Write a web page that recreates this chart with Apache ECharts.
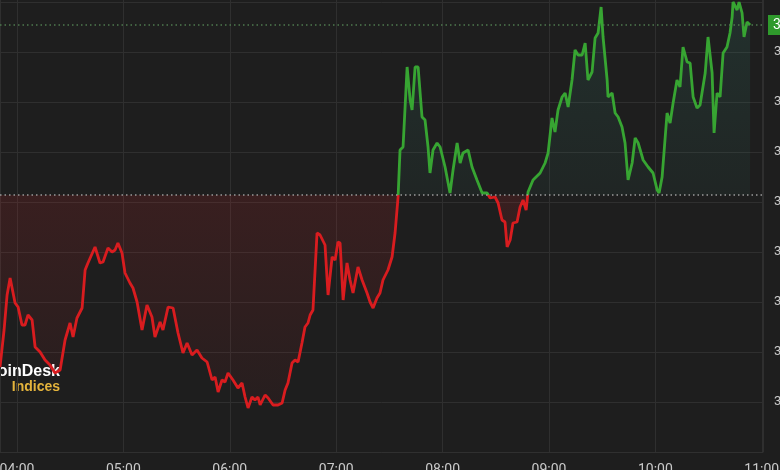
<!DOCTYPE html>
<html><head><meta charset="utf-8">
<style>html,body{margin:0;padding:0;background:#1e1e1e;}#c{width:780px;height:470px;}</style>
<script src="https://cdn.jsdelivr.net/npm/echarts@6/dist/echarts.min.js"></script>
</head><body><div id="c"></div>
<script>
// minutes after 04:00 (UTC) for each sample
const minutesFrom0400 = [
-9.6,-7.3,-5.6,-3.9,-1.1,0.6,2.8,4.5,6.2,8.5,10.2,13.0,15.8,18.6,21.4,24.3,27.1,29.9,31.6,33.8,
36.7,38.4,40.0,44.0,46.8,48.5,51.3,53.6,55.3,56.9,59.2,60.9,63.7,65.4,67.7,70.5,73.3,76.1,77.8,80.7,
82.3,85.2,88.0,90.8,93.6,95.9,98.7,101.5,104.3,107.2,110.0,111.7,113.4,115.6,117.3,119.0,121.8,124.6,126.9,128.6,
130.3,132.5,134.2,135.9,137.1,139.9,141.6,144.4,147.2,149.5,151.2,152.8,155.1,156.8,158.5,160.7,162.4,164.1,165.3,166.9,
169.2,170.9,173.7,175.4,177.7,179.4,181.0,182.2,183.9,186.1,187.8,189.5,192.3,194.6,197.4,199.1,200.8,203.0,204.7,206.4,
209.2,211.5,213.2,214.9,216.0,217.7,220.0,221.7,222.8,224.5,226.2,228.4,230.1,231.8,232.9,234.6,236.9,238.6,241.4,244.2,
245.9,248.2,249.9,251.5,254.4,256.6,259.4,262.3,265.1,266.8,269.6,271.3,273.5,275.2,276.4,278.1,279.7,282.0,283.7,285.4,
287.1,288.2,291.0,295.0,297.8,299.5,301.7,303.4,305.1,307.4,309.1,310.8,313.0,314.7,316.4,318.7,320.4,322.0,324.3,326.0,
327.7,329.4,330.5,332.8,333.3,335.6,337.3,339.0,341.2,342.9,344.6,346.9,348.6,350.3,353.1,355.9,358.7,361.0,362.1,363.8,
366.6,368.3,370.0,372.2,373.9,375.6,377.9,379.6,381.3,383.5,385.2,388.1,389.7,392.0,393.1,394.8,396.5,398.2,400.4,402.1,
403.3,403.8,406.1,407.2,408.9,410.0,411.7,413.4
];
const prices = [
30085,30122,30157,30174,30149,30145,30127,30127,30137,30132,30105,30100,30092,30087,30079,30082,30112,30129,30115,30134,
30144,30182,30189,30205,30189,30190,30204,30200,30202,30209,30199,30179,30169,30164,30150,30122,30147,30135,30115,30130,
30122,30145,30144,30119,30099,30109,30097,30102,30094,30090,30072,30075,30060,30072,30070,30079,30072,30064,30069,30055,
30044,30055,30052,30055,30047,30057,30054,30047,30047,30049,30062,30069,30089,30092,30090,30109,30125,30129,30137,30142,
30219,30217,30207,30157,30195,30192,30210,30209,30152,30189,30172,30159,30185,30172,30159,30150,30144,30154,30159,30172,
30182,30195,30219,30255,30302,30305,30385,30352,30342,30385,30385,30335,30332,30305,30279,30302,30309,30305,30285,30259,
30282,30309,30289,30299,30302,30285,30272,30259,30259,30254,30255,30249,30232,30230,30205,30212,30229,30230,30245,30252,
30242,30260,30272,30279,30289,30299,30334,30320,30342,30355,30359,30345,30372,30402,30397,30397,30409,30372,30380,30414,
30419,30445,30415,30372,30355,30359,30339,30335,30325,30309,30272,30289,30314,30309,30292,30285,30279,30262,30259,30275,
30339,30329,30349,30372,30365,30405,30390,30389,30355,30344,30347,30379,30415,30379,30319,30359,30355,30399,30405,30419,
30435,30450,30442,30450,30439,30415,30430,30427
];
const openPrice = 30257;
const lastPrice = 30427;
const yMin = 30000, yMax = 30500, yStep = 50;
const xStartMin = -9.6, xEndMin = 420.7;
const logoMain = 'CoinDesk';
const logoSub = 'Indices';

const base = Date.UTC(2023, 6, 1, 4, 0, 0);
const seriesData = minutesFrom0400.map((m, i) => [base + m * 60000, prices[i]]);
const pMax = Math.max(...prices), pMin = Math.min(...prices);
const f = (pMax - openPrice) / (pMax - pMin);

const RED = '#d91c1f', GREEN = '#37a532';
const chart = echarts.init(document.getElementById('c'), null, {renderer: 'canvas'});
chart.setOption({
  backgroundColor: '#1e1e1e',
  useUTC: true,
  animation: false,
  grid: {left: 0, right: 17, top: -48, bottom: 18, containLabel: false, outerBoundsMode: 'none'},
  xAxis: {
    type: 'time',
    min: base + xStartMin * 60000,
    max: base + xEndMin * 60000,
    minInterval: 3600000, maxInterval: 3600000,
    axisLine: {show: true, lineStyle: {color: '#303030'}},
    axisTick: {show: false},
    axisLabel: {color: '#c9c9c9', fontSize: 14, fontFamily: 'Roboto', margin: 11,
      formatter: '{HH}:{mm}', hideOverlap: false},
    splitLine: {show: true, lineStyle: {color: '#2f2f2f', width: 1}}
  },
  yAxis: {
    type: 'value', position: 'right', min: yMin, max: yMax, interval: yStep,
    axisLine: {show: false}, axisTick: {show: false},
    axisLabel: {color: '#c9c9c9', fontSize: 13, fontFamily: 'Roboto', margin: 11, showMinLabel: false,
      formatter: v => v >= yMax - yStep ? '' : v.toLocaleString('en-US')},
    splitLine: {show: true, lineStyle: {color: '#2f2f2f', width: 1}}
  },
  visualMap: {
    show: false, type: 'piecewise', dimension: 1, seriesIndex: 0,
    pieces: [{min: 0, max: openPrice, color: RED}, {min: openPrice, max: 1e9, color: GREEN}]
  },
  series: [{
    type: 'line', data: seriesData, showSymbol: false, symbol: 'none', clip: false,
    lineStyle: {width: 2.8},
    areaStyle: {
      origin: openPrice,
      color: new echarts.graphic.LinearGradient(0, 0, 0, 1, [
        {offset: 0, color: 'rgba(60,150,130,0.22)'},
        {offset: f, color: 'rgba(60,150,130,0.09)'},
        {offset: f, color: 'rgba(205,35,40,0.22)'},
        {offset: 1, color: 'rgba(205,35,40,0.07)'}
      ])
    },
    markLine: {
      silent: true, symbol: 'none', animation: false,
      data: [
        {yAxis: openPrice, lineStyle: {color: '#9a9a9a', type: [1.5, 3], width: 1.5}, label: {show: false}},
        {yAxis: lastPrice, lineStyle: {color: '#4f7a4f', type: [1.5, 3], width: 1.5},
          label: {show: true, position: 'end', distance: 5, formatter: () => lastPrice.toLocaleString('en-US'),
            color: '#fff', backgroundColor: '#2f9a2c', padding: [3, 5], fontSize: 14, fontFamily: 'Roboto'}}
      ]
    }
  }],
  graphic: [
    {type: 'text', x: 60, y: 372, style: {text: logoMain, fill: '#ffffff', textAlign: 'right', textVerticalAlign: 'middle',
      font: 'bold 16px "Liberation Sans", Arial, sans-serif'}},
    {type: 'text', x: 60, y: 387, style: {text: logoSub, fill: '#e4b43c', textAlign: 'right', textVerticalAlign: 'middle',
      font: 'bold 14px "Liberation Sans", Arial, sans-serif'}}
  ]
});
</script></body></html>
